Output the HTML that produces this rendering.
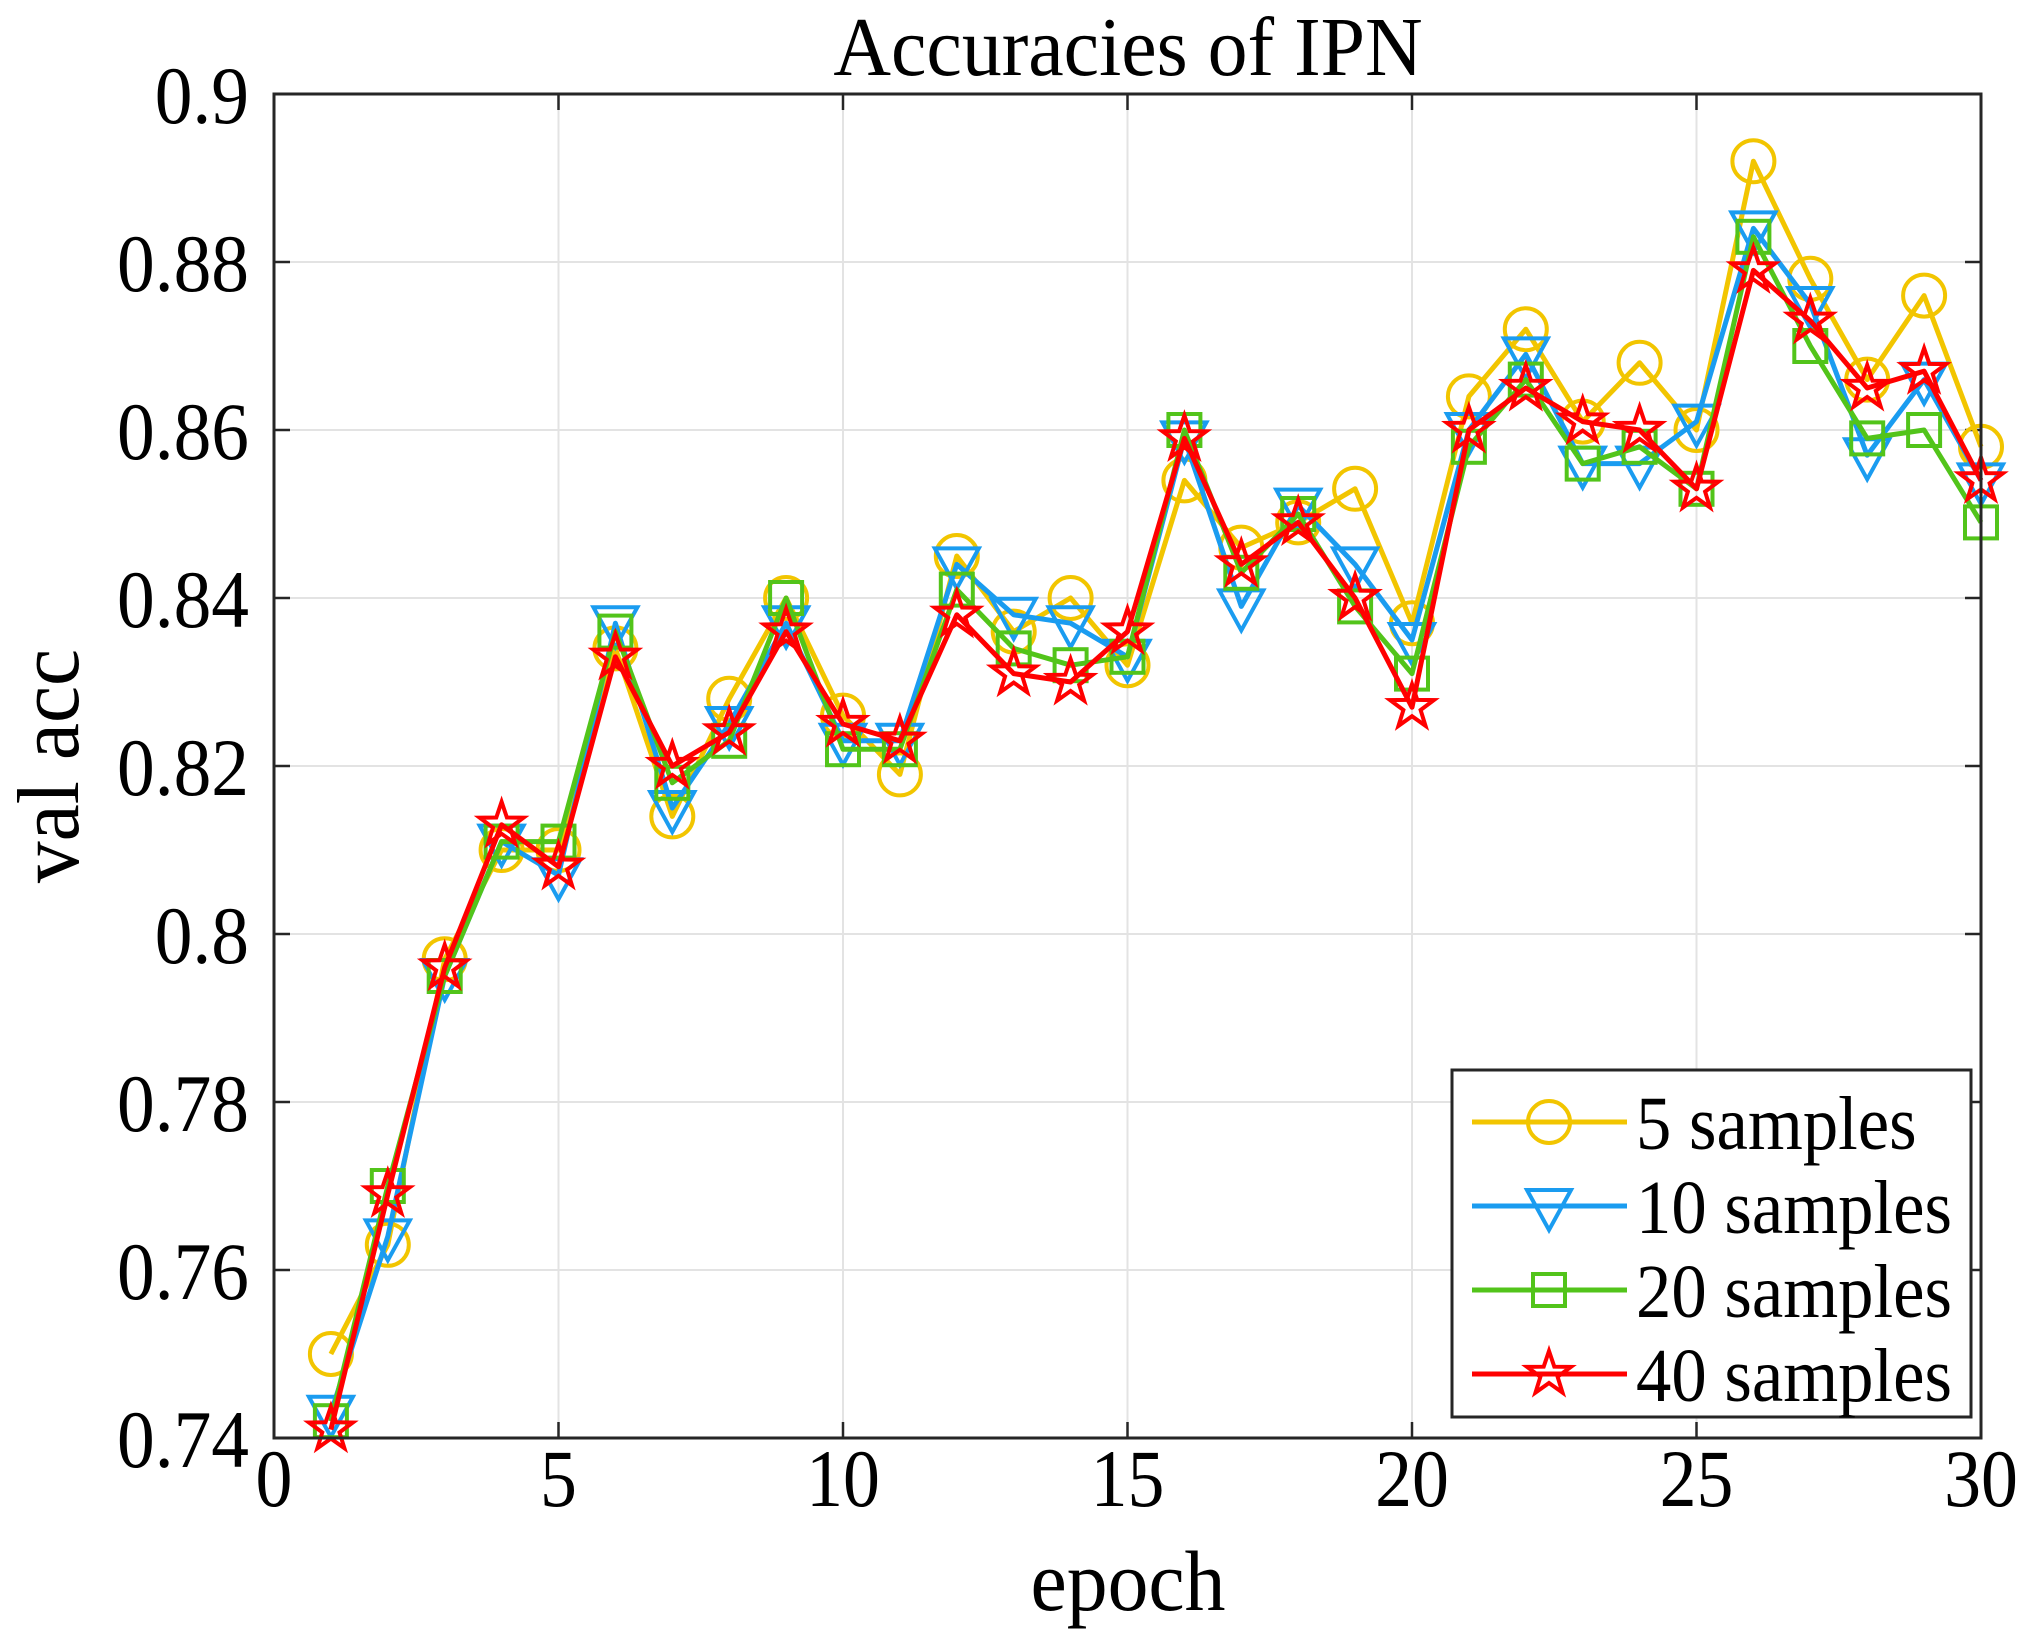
<!DOCTYPE html>
<html><head><meta charset="utf-8"><style>
html,body{margin:0;padding:0;background:#fff;}
svg{display:block;}
text{font-family:"Liberation Serif",serif;fill:#000;}
</style></head><body>
<svg id="s" width="2033" height="1647" viewBox="0 0 2033 1647" xmlns="http://www.w3.org/2000/svg"></svg>
<script>
const S=document.getElementById('s');const NS='http://www.w3.org/2000/svg';
function el(t,a,txt){const e=document.createElementNS(NS,t);for(const k in a)e.setAttribute(k,a[k]);if(txt!==undefined)e.textContent=txt;S.appendChild(e);return e;}
function tx(x,y,size,sx,anchor,s,rot){el('text',{x:0,y:0,'font-size':size,'text-anchor':anchor,transform:`translate(${x},${y})${rot?' rotate(-90)':''} scale(${sx},1)`},s);}
const L=274,R=1981,T=94,B=1438;
const X=x=>L+x*(R-L)/30, Y=v=>B-(v-0.74)*(B-T)/0.16;
for(let i=5;i<30;i+=5)el('line',{x1:X(i),x2:X(i),y1:T,y2:B,stroke:'#e3e3e3','stroke-width':2});
for(let i=1;i<8;i++){const y=Y(0.74+i*0.02);el('line',{x1:L,x2:R,y1:y,y2:y,stroke:'#e3e3e3','stroke-width':2});}
for(let i=0;i<=30;i+=5){el('line',{x1:X(i),x2:X(i),y1:B,y2:B-16,stroke:'#262626','stroke-width':2.5});el('line',{x1:X(i),x2:X(i),y1:T,y2:T+16,stroke:'#262626','stroke-width':2.5});
 tx(X(i),1506,82,0.9,'middle',String(i));}
const yl=['0.74','0.76','0.78','0.8','0.82','0.84','0.86','0.88','0.9'];
for(let i=0;i<=8;i++){const y=Y(0.74+i*0.02);el('line',{x1:L,x2:L+16,y1:y,y2:y,stroke:'#262626','stroke-width':2.5});el('line',{x1:R,x2:R-16,y1:y,y2:y,stroke:'#262626','stroke-width':2.5});
 tx(249,y+29,82,0.92,'end',yl[i]);}
tx(1128,75,84,0.95,'middle','Accuracies of IPN');
tx(1128,1610,86,0.95,'middle','epoch');
tx(78,766,88,0.95,'middle','val acc',true);
const D={
y:[0.750,0.763,0.797,0.810,0.810,0.834,0.814,0.828,0.840,0.826,0.819,0.845,0.836,0.840,0.832,0.854,0.846,0.849,0.853,0.837,0.864,0.872,0.861,0.868,0.860,0.892,0.878,0.866,0.876,0.858],
b:[0.743,0.764,0.795,0.811,0.807,0.837,0.815,0.825,0.837,0.823,0.823,0.844,0.838,0.837,0.833,0.859,0.839,0.851,0.844,0.835,0.860,0.869,0.856,0.856,0.861,0.884,0.875,0.857,0.866,0.854],
g:[0.742,0.770,0.795,0.811,0.811,0.836,0.818,0.823,0.840,0.822,0.822,0.841,0.834,0.832,0.833,0.860,0.843,0.850,0.839,0.831,0.858,0.866,0.856,0.858,0.853,0.883,0.870,0.859,0.860,0.849],
r:[0.741,0.769,0.796,0.813,0.808,0.833,0.820,0.824,0.836,0.825,0.823,0.838,0.831,0.830,0.836,0.859,0.844,0.849,0.840,0.827,0.860,0.865,0.861,0.860,0.853,0.879,0.873,0.865,0.867,0.854]};
const C={y:'#F2C500',b:'#1A9CF0',g:'#52C41A',r:'#FF0000'};
function marker(k,x,y){const c=C[k],sw=4;
 if(k=='y')el('circle',{cx:x,cy:y,r:21,fill:'none',stroke:c,'stroke-width':sw});
 else if(k=='b')el('polygon',{points:`${x-22},${y-16} ${x+22},${y-16} ${x},${y+24}`,fill:'none',stroke:c,'stroke-width':sw});
 else if(k=='g')el('rect',{x:x-16,y:y-16,width:32,height:32,fill:'none',stroke:c,'stroke-width':sw});
 else{let p=[];for(let i=0;i<10;i++){const a=-Math.PI/2+i*Math.PI/5,rr=i%2?9:23;p.push((x+rr*Math.cos(a)).toFixed(1)+','+(y+rr*Math.sin(a)).toFixed(1));}
  el('polygon',{points:p.join(' '),fill:'none',stroke:c,'stroke-width':sw});}}
for(const k of ['y','b','g','r']){const pts=D[k].map((v,i)=>X(i+1)+','+Y(v)).join(' ');
 el('polyline',{points:pts,fill:'none',stroke:C[k],'stroke-width':5,'stroke-linejoin':'round'});
 D[k].forEach((v,i)=>marker(k,X(i+1),Y(v)));}
el('rect',{x:L,y:T,width:R-L,height:B-T,fill:'none',stroke:'#262626','stroke-width':3});
el('rect',{x:1452,y:1070,width:519,height:347,fill:'#fff',stroke:'#262626','stroke-width':3});
const lab=['5 samples','10 samples','20 samples','40 samples'];
['y','b','g','r'].forEach((k,i)=>{const y=1122+i*84;el('line',{x1:1472,x2:1627,y1:y,y2:y,stroke:C[k],'stroke-width':5});marker(k,1549,y);
 tx(1636,y+27,76,0.93,'start',lab[i]);});
</script>
</body></html>
